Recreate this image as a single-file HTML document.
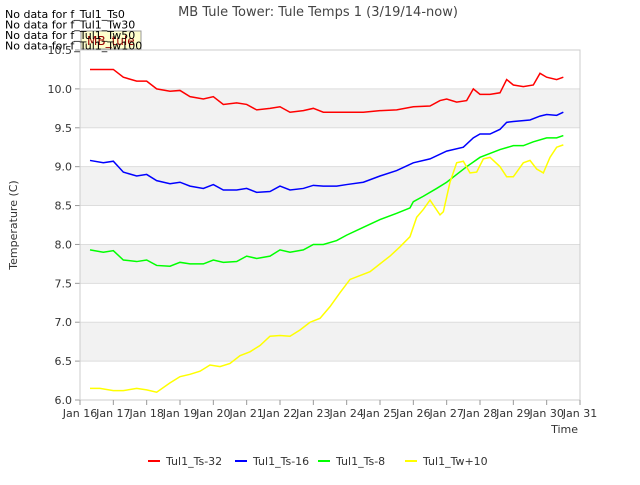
<!DOCTYPE html>
<html><head><meta charset="utf-8"><style>
body{margin:0;background:#fff;font-family:"Liberation Sans","DejaVu Sans",sans-serif}
text{font-family:"DejaVu Sans","Liberation Sans",sans-serif}
</style></head><body>
<svg id="c" width="640" height="480" xmlns="http://www.w3.org/2000/svg"></svg>
<script>
const xTicks=[16,17,18,19,20,21,22,23,24,25,26,27,28,29,30,31];
const yTicks=[6.0,6.5,7.0,7.5,8.0,8.5,9.0,9.5,10.0,10.5];
const seriesNames=["Tul1_Ts-32","Tul1_Ts-16","Tul1_Ts-8","Tul1_Tw+10"];
const seriesColors=["#ff0000","#0000ff","#00ff00","#ffff00"];
const redT=[16.3,16.7,17.0,17.3,17.7,18.0,18.3,18.7,19.0,19.3,19.7,20.0,20.3,20.7,21.0,21.3,21.7,22.0,22.3,22.7,23.0,23.3,23.7,24.0,24.5,25.0,25.5,26.0,26.5,26.8,27.0,27.3,27.6,27.8,28.0,28.3,28.6,28.8,29.0,29.3,29.6,29.8,30.0,30.3,30.5];
const redV=[10.25,10.25,10.25,10.15,10.1,10.1,10.0,9.97,9.98,9.9,9.87,9.9,9.8,9.82,9.8,9.73,9.75,9.77,9.7,9.72,9.75,9.7,9.7,9.7,9.7,9.72,9.73,9.77,9.78,9.85,9.87,9.83,9.85,10.0,9.93,9.93,9.95,10.12,10.05,10.03,10.05,10.2,10.15,10.12,10.15];
const blueT=[16.3,16.7,17.0,17.3,17.7,18.0,18.3,18.7,19.0,19.3,19.7,20.0,20.3,20.7,21.0,21.3,21.7,22.0,22.3,22.7,23.0,23.3,23.7,24.0,24.5,25.0,25.5,26.0,26.5,27.0,27.5,27.8,28.0,28.3,28.6,28.8,29.0,29.5,29.8,30.0,30.3,30.5];
const blueV=[9.08,9.05,9.07,8.93,8.88,8.9,8.82,8.78,8.8,8.75,8.72,8.77,8.7,8.7,8.72,8.67,8.68,8.75,8.7,8.72,8.76,8.75,8.75,8.77,8.8,8.88,8.95,9.05,9.1,9.2,9.25,9.37,9.42,9.42,9.48,9.57,9.58,9.6,9.65,9.67,9.66,9.7];
const greenT=[16.3,16.7,17.0,17.3,17.7,18.0,18.3,18.7,19.0,19.3,19.7,20.0,20.3,20.7,21.0,21.3,21.7,22.0,22.3,22.7,23.0,23.3,23.7,24.0,24.5,25.0,25.5,25.9,26.0,26.3,26.7,27.0,27.3,27.6,28.0,28.3,28.6,29.0,29.3,29.6,30.0,30.3,30.5];
const greenV=[7.93,7.9,7.92,7.8,7.78,7.8,7.73,7.72,7.77,7.75,7.75,7.8,7.77,7.78,7.85,7.82,7.85,7.93,7.9,7.93,8.0,8.0,8.05,8.12,8.22,8.32,8.4,8.47,8.55,8.62,8.72,8.8,8.9,9.0,9.12,9.17,9.22,9.27,9.27,9.32,9.37,9.37,9.4];
const yellowT=[16.3,16.6,17.0,17.3,17.7,18.0,18.3,18.7,19.0,19.3,19.6,19.9,20.2,20.5,20.8,21.1,21.4,21.7,22.0,22.3,22.6,22.9,23.2,23.5,23.8,24.1,24.4,24.7,25.0,25.3,25.6,25.9,26.1,26.3,26.5,26.8,26.9,27.1,27.3,27.5,27.7,27.9,28.1,28.3,28.6,28.8,29.0,29.3,29.5,29.7,29.9,30.1,30.3,30.5];
const yellowV=[6.15,6.15,6.12,6.12,6.15,6.13,6.1,6.22,6.3,6.33,6.37,6.45,6.43,6.47,6.57,6.62,6.7,6.82,6.83,6.82,6.9,7.0,7.05,7.2,7.38,7.55,7.6,7.65,7.75,7.85,7.97,8.1,8.35,8.45,8.57,8.38,8.42,8.8,9.05,9.07,8.92,8.93,9.1,9.12,9.0,8.87,8.87,9.05,9.08,8.97,8.92,9.12,9.25,9.28];
const L=80,R=580,T=50,B=400;
const xs=d=>L+(d-16)/15*(R-L), ys=v=>B-(v-6)/4.5*(B-T);
const svg=document.getElementById('c'),NS="http://www.w3.org/2000/svg";
function mk(tag,a,txt){const e=document.createElementNS(NS,tag);for(const k in a)e.setAttribute(k,a[k]);if(txt!==undefined)e.textContent=txt;svg.appendChild(e);return e;}
// bands
for(let i=0;i<yTicks.length-1;i++){ if(i%2===1){const r=mk('rect',{x:L,y:ys(yTicks[i+1]),width:R-L,height:ys(yTicks[i])-ys(yTicks[i+1]),fill:'#f2f2f2'});

}}
yTicks.forEach(v=>{const l=mk('line',{x1:L,x2:R,y1:ys(v),y2:ys(v),stroke:'#dddddd'});


mk('line',{x1:L-5,x2:L,y1:ys(v),y2:ys(v),stroke:'#999'});
const t=mk('text',{x:L-8,y:ys(v)+4,'text-anchor':'end','font-size':11,fill:'#333'},v.toFixed(1));

});
mk('rect',{x:L,y:T,width:R-L,height:B-T,fill:'none',stroke:'#cccccc'});
xTicks.forEach(d=>{mk('line',{x1:xs(d),x2:xs(d),y1:B,y2:B+5,stroke:'#999'});
const t=mk('text',{x:xs(d),y:B+17,'text-anchor':'middle','font-size':11,fill:'#333'},'Jan '+d);

});
const allT=[redT,blueT,greenT,yellowT],allV=[redV,blueV,greenV,yellowV];
allT.forEach((tt,i)=>{const p=mk('polyline',{points:tt.map((d,j)=>xs(d)+','+ys(allV[i][j])).join(' '),fill:'none',stroke:seriesColors[i],'stroke-width':1.5});

});
let t;
t=mk('text',{x:318,y:16,'text-anchor':'middle','font-size':13,fill:'#444'},'MB Tule Tower: Tule Temps 1 (3/19/14-now)');
t=mk('text',{x:578,y:433,'text-anchor':'end','font-size':11,fill:'#333'},'Time');
t=mk('text',{x:17,y:225,'text-anchor':'middle','font-size':11,fill:'#333',transform:'rotate(-90 17 225)'},'Temperature (C)');
const r=mk('rect',{x:81,y:31,width:60,height:18,fill:'#ffffcc',stroke:'#999'});
t=mk('text',{x:87,y:45,'font-size':12,fill:'#990000'},'MB_tule');
['No data for f_Tul1_Ts0','No data for f_Tul1_Tw30','No data for f_Tul1_Tw50','No data for f_Tul1_Tw100'].forEach((s,i)=>{
const e=mk('text',{x:5,y:18+i*10.5,'font-size':11,fill:'#000'},s);

});
const lx=[148,235,318,405];
seriesNames.forEach((n,i)=>{mk('line',{x1:lx[i],x2:lx[i]+12,y1:461,y2:461,stroke:seriesColors[i],'stroke-width':2});
const e=mk('text',{x:lx[i]+18,y:465,'font-size':11,fill:'#333'},n);

});
</script>
</body></html>
